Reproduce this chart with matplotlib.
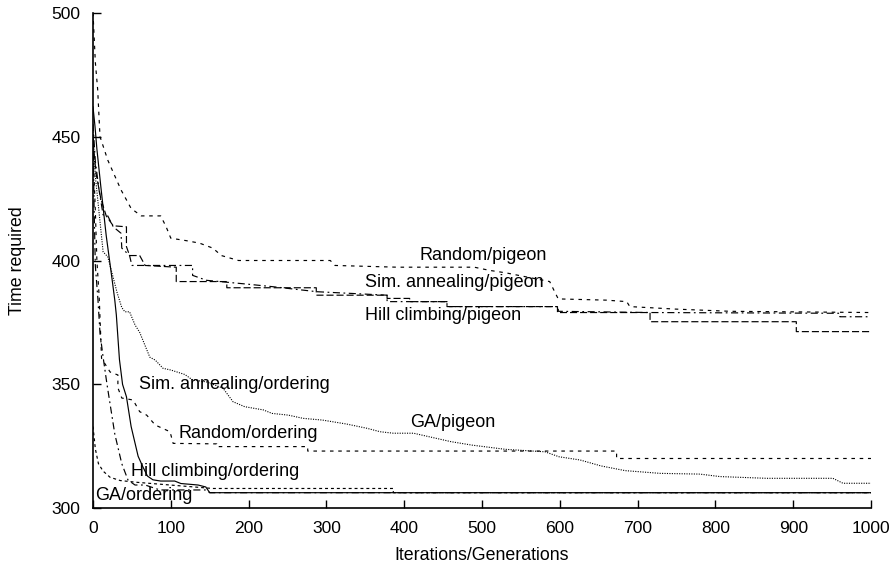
import matplotlib
matplotlib.use("Agg")
import matplotlib.pyplot as plt

# === Dados ===
rand_pig_x = [0, 3, 6, 9, 19, 36, 49, 62, 87, 94, 100, 120, 137, 154, 165, 187, 305, 311, 391, 490, 510, 531, 587, 594, 598, 660, 686, 690, 748, 819, 1000]
rand_pig_y = [500, 480, 469, 450, 440.5, 428.5, 421, 418, 418, 413.6, 409, 408, 407, 405, 402, 400, 400, 398, 397.3, 397.3, 396, 395, 391.5, 387, 384.5, 384, 383.4, 381.4, 380.4, 379.5, 379]

sa_pig_x = [0, 3, 8, 13, 19, 26, 36, 37, 47, 50, 128, 128, 146, 197, 232, 288, 378, 378, 455, 455, 598, 598, 718, 960, 960, 1000]
sa_pig_y = [455, 440, 428, 418.4, 418, 413.6, 411, 405, 402, 398, 398, 394, 392, 390.5, 389.4, 387.4, 386, 383.4, 383.4, 381.4, 381.4, 379.5, 379, 378.7, 377.3, 377.3]

hc_pig_x = [0, 4, 10, 17, 26, 43, 43, 47, 60, 67, 107, 107, 172, 172, 287, 287, 378, 378, 407, 407, 455, 455, 597, 597, 716, 716, 904, 904, 1000]
hc_pig_y = [448, 435, 425, 418, 414, 413.6, 405.6, 402, 402, 398, 397.3, 391.5, 391.5, 389, 389, 386, 386, 384.7, 384.7, 383.4, 383.4, 381.4, 381.4, 379, 379, 375.3, 375.3, 371.3, 371.3]

ga_pig_x = [0, 3, 13, 19, 31, 37, 41, 47, 54, 60, 73, 80, 90, 100, 118, 128, 146, 167, 180, 195, 219, 230, 251, 270, 295, 326, 352, 369, 386, 412, 460, 487, 530, 581, 599, 626, 653, 684, 729, 780, 806, 866, 951, 964, 1000]
ga_pig_y = [452, 434, 403.5, 401.5, 387, 381, 379.3, 379.3, 374, 371, 361, 359.8, 356.5, 355.8, 354, 351.8, 351, 348.5, 343, 341, 339.7, 338.3, 337.6, 336.3, 335.6, 334, 332.3, 330.9, 330.3, 330.3, 326.9, 325.5, 323.8, 322.8, 320.8, 319.5, 317.1, 315.2, 314.1, 313.8, 312.8, 312.1, 312.1, 310.1, 310.1]

sa_ord_x = [0, 2.6, 5, 10, 17, 24.7, 28, 30, 34, 38, 43, 49, 58, 64, 70, 77, 87, 105, 113, 135, 145, 150, 1000]
sa_ord_y = [462, 454, 445, 430, 410, 392, 384, 378, 360, 350, 345, 333, 321, 316.8, 313, 311.5, 311, 311, 310, 309.4, 308.6, 306.3, 306.3]

rand_ord_x = [0, 3, 5, 8, 11, 22, 32, 32, 37, 51.5, 60, 69, 80, 99, 103, 159, 159, 276, 276, 673, 673, 1000]
rand_ord_y = [445, 420, 400, 385, 360.5, 355, 353.8, 348.6, 344.5, 343.7, 339, 337.6, 333.6, 330.9, 326.2, 326, 324.9, 324.9, 323.1, 323.1, 320.1, 320.1]

hc_ord_x = [0, 1.5, 3, 6.4, 9, 13, 18, 22, 28, 37, 45, 54, 67, 86, 146, 150, 1000]
hc_ord_y = [450, 420, 398, 384, 370.6, 361, 350, 342, 330, 318, 311.4, 309.4, 309.4, 307.4, 307.4, 306.3, 306.3]

ga_ord_x = [0, 3, 7, 13, 22, 35, 56, 99, 154, 386, 386, 1000]
ga_ord_y = [333, 324, 318, 315, 312.5, 311.2, 310.5, 309.4, 308, 308, 306.3, 306.3]

# rótulos e posições (x esquerdo, y central)
rotulos = ["Random/pigeon", "Sim. annealing/pigeon", "Hill climbing/pigeon", "Sim. annealing/ordering",
           "GA/pigeon", "Random/ordering", "Hill climbing/ordering", "GA/ordering"]
rot_x = [420, 350, 350, 59.5, 408, 109.7, 48.8, 2.6]
rot_y = [402.2, 391, 378, 349.8, 334.5, 330, 315, 305.1]

plt.rcParams['font.family'] = ['Liberation Sans', 'DejaVu Sans']

fig = plt.figure(figsize=(8.96, 5.65), dpi=100)
ax = fig.add_axes([93 / 896, 1 - 508.3 / 565, (871 - 93) / 896, (508.3 - 12.7) / 565])

lw = 0.85
ax.plot(rand_pig_x, rand_pig_y, color='black', lw=lw, linestyle=(0, (3, 4)))
ax.plot(sa_pig_x, sa_pig_y, color='black', lw=lw, linestyle=(0, (6, 3, 1.5, 3)))
ax.plot(hc_pig_x, hc_pig_y, color='black', lw=lw, linestyle=(0, (6, 2.5)))
ax.plot(ga_pig_x, ga_pig_y, color='black', lw=0.8, linestyle=(0, (1, 1.2)))
ax.plot(sa_ord_x, sa_ord_y, color='black', lw=lw, linestyle='-')
ax.plot(rand_ord_x, rand_ord_y, color='black', lw=lw, linestyle=(0, (3, 4)))
ax.plot(hc_ord_x, hc_ord_y, color='black', lw=lw, linestyle=(0, (6, 3, 1.5, 3)))
ax.plot(ga_ord_x, ga_ord_y, color='black', lw=lw, linestyle=(0, (2.5, 2.5)))

for t, x, y in zip(rotulos, rot_x, rot_y):
    ax.text(x, y, t, fontsize=13, ha='left', va='center')

ax.set_xlim(0, 1000)
ax.set_ylim(300, 500)
ax.set_xticks(range(0, 1001, 100))
ax.set_yticks(range(300, 501, 50))
ax.spines['top'].set_visible(False)
ax.spines['right'].set_visible(False)
ax.spines['left'].set_linewidth(1.2)
ax.spines['bottom'].set_linewidth(1.2)
ax.tick_params(direction='in', length=6, width=1, labelsize=12.6)
ax.tick_params(axis='x', pad=9)
ax.tick_params(axis='y', pad=9)
ax.set_xlabel("Iterations/Generations", fontsize=12.8, labelpad=8)
ax.set_ylabel("Time required", fontsize=12.8, labelpad=18)

fig.savefig("out.png", dpi=100)
